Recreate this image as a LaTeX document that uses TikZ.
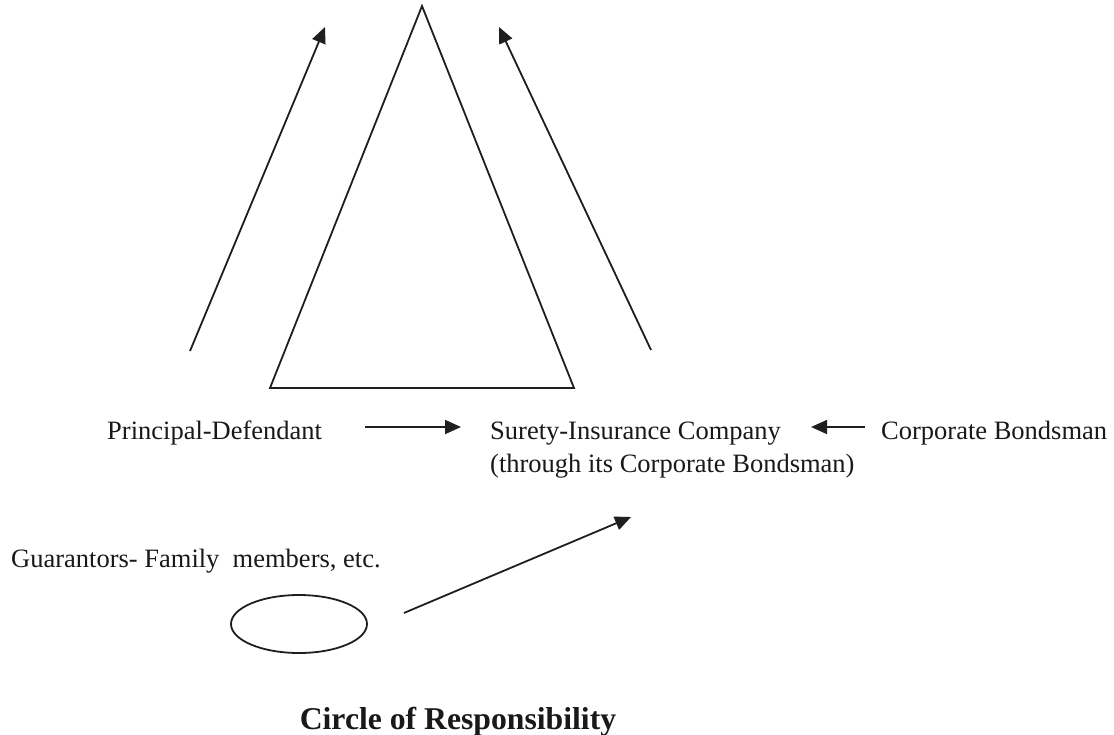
\documentclass[tikz,border=0pt]{standalone}
\usepackage{fontspec}
\setmainfont{Liberation Serif}
\usetikzlibrary{arrows.meta,shapes.geometric}
\begin{document}
\begin{tikzpicture}[x=1pt,y=-1pt,
  lbl/.style={inner sep=0pt,anchor=base west,text=black!90,font=\fontsize{26.5}{31}\selectfont},
  ln/.style={line width=1.8pt,draw=black!88},
  arr/.style={ln,-{Triangle[length=16pt,width=14pt]}}]
\useasboundingbox[fill=white] (0,0) rectangle (1114,734);
% triangle
\draw[ln,line join=miter] (422,6) -- (574,388) -- (270,388) -- cycle;
% upward arrows
\coordinate (la0) at (190,351);
\coordinate (la1) at (325,27);
\coordinate (ra0) at (651,350);
\coordinate (ra1) at (499,27);
\draw[arr] (la0) -- (la1);
\draw[arr] (ra0) -- (ra1);
% labels
\node[lbl] (pd) at (107,439) {Principal-Defendant};
\node[lbl] (sur) at (490,439) {Surety-Insurance Company};
\node[lbl] (thr) at (490,472) {(through its Corporate Bondsman)};
\node[lbl] (cb) at (881,439) {Corporate Bondsman};
\node[lbl] (gu) at (11,567) {Guarantors-\ Family \ members, etc.};
\node[inner sep=0pt,anchor=base,text=black!90,font=\bfseries\fontsize{31.7}{36}\selectfont] (ttl) at (458,729) {Circle of Responsibility};
% horizontal arrows
\draw[arr] ([xshift=43pt,yshift=12pt]pd.base east) -- ([xshift=-29pt,yshift=12pt]sur.base west);
\draw[arr] ([xshift=-16pt,yshift=12pt]cb.base west) -- ([xshift=30pt,yshift=12pt]sur.base east);
% ellipse
\node[ellipse,ln,minimum width=136pt,minimum height=58pt,inner sep=0pt] (circ) at (299,624) {};
\coordinate (ea1) at (631,517);
\draw[arr] ([xshift=36pt,yshift=11pt]circ.east) -- (ea1);
\end{tikzpicture}
\end{document}
